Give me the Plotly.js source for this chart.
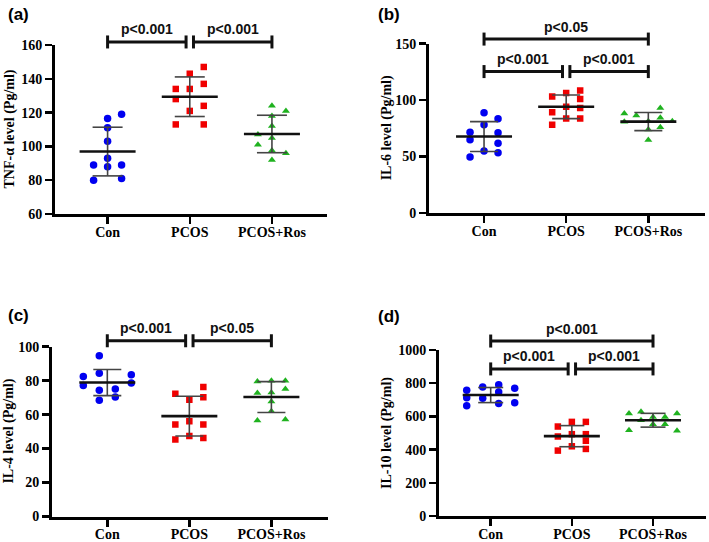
<!DOCTYPE html>
<html><head><meta charset="utf-8">
<script src="https://cdn.plot.ly/plotly-3.0.1.min.js"></script>
<style>html,body{margin:0;padding:0;background:#fff}#chart{width:709px;height:542px}</style>
</head><body><div id="chart"></div>
<script>
// ---------- DATA ----------
const categories = ['Con', 'PCOS', 'PCOS+Ros'];

// (a) TNF-α (Pg/ml)
const tnfCon  = [119, 116.5, 111, 103, 93, 89, 89, 88, 80, 81];
const tnfConCol  = [1, 0, 0, 0, 0, -1, 1, 0, -1, 1];
const tnfPcos = [147, 143, 137, 134, 134, 128, 124, 121, 113, 113];
const tnfPcosCol = [1, 0, 1, -1, 0, -1, 1, 0, -1, 1];
const tnfRos  = [124, 121, 118, 112, 107, 105, 101, 97.5, 96, 92];
const tnfRosCol  = [0, 1, 0, 0, -1, 0, -1, 0, 1, 0];
const tnfComps = [[0, 1, 161.8, 'p<0.001'], [1, 2, 161.8, 'p<0.001']];

// (b) IL-6 (Pg/ml)
const il6Con  = [88.9, 83.4, 78.1, 71.6, 71.0, 64.9, 61.7, 54.9, 53.4, 49.6];
const il6ConCol  = [0, 1, 0, -1, 1, -1, 1, 0, 1, -1];
const il6Pcos = [108.6, 106.3, 103.3, 101.0, 94.2, 93.0, 89.2, 83.7, 83.7, 78.1];
const il6PcosCol = [1, 0, -1, 1, 0, 1, -1, 0, 1, -1];
const il6Ros  = [93.1, 88.1, 86.3, 84.3, 80.8, 81.3, 81.3, 76.0, 74.0, 64.6];
const il6RosCol  = [1, -2, -1, 1, -2, 0, 2, 1, 0, 0];
const il6Comps = [[0, 1, 125.3, 'p<0.001'], [1, 2, 125.3, 'p<0.001'], [0, 2, 154.1, 'p<0.05']];

// (c) IL-4 (Pg/ml)
const il4Con  = [94.6, 84.4, 83.5, 82.5, 78.6, 77.2, 75.1, 74.3, 70.4, 68.4];
const il4ConCol  = [-1, -1, 3, -3, 3, -3, 1, -1, 1, -1];
const il4Pcos = [76.2, 72.3, 70.2, 68.8, 56.1, 54.2, 54.2, 47.4, 46.2, 45.4];
const il4PcosCol = [1, -1, 1, 0, 0, -1, 1, 0, 1, -1];
const il4Ros  = [79.9, 79.9, 79.5, 75.1, 73.1, 72.7, 67.8, 62.0, 57.1, 56.5];
const il4RosCol  = [0, 1, -1, 1, 0, -1, 0, 0, 1, -1];
const il4Comps = [[0, 1, 103.5, 'p<0.001'], [1, 2, 103.5, 'p<0.05']];

// (d) IL-10 (Pg/ml)
const il10Con  = [790, 777, 770, 757, 747, 712, 710, 682, 677, 664];
const il10ConCol  = [1, -1, 3, -3, 1, -3, -1, 3, 1, -3];
const il10Pcos = [567, 567, 539, 493, 493, 479, 453, 420, 404, 394];
const il10PcosCol = [0, 1, -1, 0, 1, -1, 1, 0, 1, -1];
const il10Ros  = [628, 618, 618, 596, 596, 577, 553, 553, 517, 513];
const il10RosCol  = [-1, -2, 2, 0, 1, -1, 0, 1, -2, 2];
const il10Comps = [[0, 1, 886, 'p<0.001'], [1, 2, 886, 'p<0.001'], [0, 2, 1054, 'p<0.001']];

// ---------- STYLE / LAYOUT ----------
const W = 709, H = 542;
const colors = ['#0000f0', '#f00000', '#1fb21f'];
const symbols = ['circle', 'square', 'triangle-up'];
const sizes = [7.5, 6.5, 7];
const serif = 'Liberation Serif, Times New Roman, serif';
const sans = 'Liberation Sans, Arial, sans-serif';

const panels = [
  {label: '(a)', ytitle: 'TNF-α level (Pg/ml)', data: [[tnfCon, tnfConCol, 14], [tnfPcos, tnfPcosCol, 14], [tnfRos, tnfRosCol, 14]],
   box: {l: 55, r: 327, t: 45, b: 214}, xr: [-0.64, 2.67], yr: [60, 160], dtick: 20, comps: tnfComps, cap: 15,
   titleX: 9, labelY: 15},
  {label: '(b)', ytitle: 'IL-6 level (Pg/ml)', data: [[il6Con, il6ConCol, 14], [il6Pcos, il6PcosCol, 14], [il6Ros, il6RosCol, 12]],
   box: {l: 429, r: 705, t: 43.7, b: 213}, xr: [-0.67, 2.69], yr: [0, 150], dtick: 50, comps: il6Comps, cap: 14,
   titleX: 387, labelY: 15},
  {label: '(c)', ytitle: 'IL-4 level (Pg/ml)', data: [[il4Con, il4ConCol, 8], [il4Pcos, il4PcosCol, 14], [il4Ros, il4RosCol, 14]],
   box: {l: 52, r: 328, t: 346.7, b: 516.5}, xr: [-0.674, 2.69], yr: [0, 100], dtick: 20, comps: il4Comps, cap: 14,
   titleX: 9, labelY: 315},
  {label: '(d)', ytitle: 'IL-10 level (Pg/ml)', data: [[il10Con, il10ConCol, 8], [il10Pcos, il10PcosCol, 14], [il10Ros, il10RosCol, 12]],
   box: {l: 439, r: 706, t: 350, b: 516}, xr: [-0.637, 2.653], yr: [0, 1000], dtick: 200, comps: il10Comps, cap: 12.5,
   titleX: 387, labelY: 316}
];

function mean(a) { return a.reduce((s, v) => s + v, 0) / a.length; }
function sd(a) { const m = mean(a); return Math.sqrt(a.reduce((s, v) => s + (v - m) * (v - m), 0) / (a.length - 1)); }

const traces = [];
const layout = {
  width: W, height: H, margin: {l: 0, r: 0, t: 0, b: 0},
  paper_bgcolor: '#fff', plot_bgcolor: 'rgba(0,0,0,0)', showlegend: false,
  shapes: [], annotations: []
};

panels.forEach((p, i) => {
  const n = i === 0 ? '' : String(i + 1);
  const xa = 'x' + n, ya = 'y' + n;
  const spacing = (p.box.r - p.box.l) / (p.xr[1] - p.xr[0]);
  const yPx = (p.box.b - p.box.t) / (p.yr[1] - p.yr[0]);
  const toPaperY = v => 1 - (p.box.b - (v - p.yr[0]) * yPx) / H;

  layout['xaxis' + n] = {
    domain: [p.box.l / W, p.box.r / W], range: p.xr, anchor: ya,
    tickvals: [0, 1, 2], ticktext: categories, ticklabelstandoff: -4,
    showline: true, linewidth: 3, linecolor: '#000', ticks: 'outside', ticklen: 7, tickwidth: 2.5, tickcolor: '#000',
    showgrid: false, zeroline: false, fixedrange: true,
    tickfont: {family: serif, size: 14, color: '#000', weight: 'bold'}
  };
  layout['yaxis' + n] = {
    domain: [1 - p.box.b / H, 1 - p.box.t / H], range: p.yr, anchor: xa,
    tick0: p.yr[0], dtick: p.dtick,
    showline: true, linewidth: 3, linecolor: '#000', ticks: 'outside', ticklen: 7, tickwidth: 2.5, tickcolor: '#000',
    showgrid: false, zeroline: false, fixedrange: true,
    tickfont: {family: serif, size: 14, color: '#000', weight: 'bold'}
  };

  const sdX = [], sdY = [], mX = [], mY = [];
  p.data.forEach((g, gi) => {
    const [vals, cols, stepPx] = g;
    const step = stepPx / spacing;
    traces.push({
      type: 'scatter', mode: 'markers', xaxis: xa, yaxis: ya, hoverinfo: 'skip',
      x: cols.map(c => gi + c * step), y: vals,
      marker: {symbol: symbols[gi], color: colors[gi], size: sizes[gi], line: {width: 0}}
    });
    const m = mean(vals), s = sd(vals), cw = p.cap / spacing, mw = 28 / spacing;
    sdX.push(gi, gi, null, gi - cw, gi + cw, null, gi - cw, gi + cw, null);
    sdY.push(m - s, m + s, null, m + s, m + s, null, m - s, m - s, null);
    mX.push(gi - mw, gi + mw, null);
    mY.push(m, m, null);
  });
  traces.push({type: 'scatter', mode: 'lines', xaxis: xa, yaxis: ya, hoverinfo: 'skip', x: sdX, y: sdY,
    line: {color: '#444', width: 1.6}});
  traces.push({type: 'scatter', mode: 'lines', xaxis: xa, yaxis: ya, hoverinfo: 'skip', x: mX, y: mY,
    line: {color: '#111', width: 2.6}});

  // significance brackets
  const gap = 3.7 / spacing;
  p.comps.forEach(c => {
    let [a, b, lvl, txt] = c;
    const x0 = a === 1 ? a + gap : a;
    const x1 = b === 1 ? b - gap : b;
    const yp = toPaperY(lvl), dy = 6.5 / H;
    const ln = {color: '#111', width: 3};
    layout.shapes.push({type: 'line', xref: xa, yref: 'paper', x0: x0, x1: x1, y0: yp, y1: yp, line: ln});
    layout.shapes.push({type: 'line', xref: xa, yref: 'paper', x0: x0, x1: x0, y0: yp - dy, y1: yp + dy, line: ln});
    layout.shapes.push({type: 'line', xref: xa, yref: 'paper', x0: x1, x1: x1, y0: yp - dy, y1: yp + dy, line: ln});
    layout.annotations.push({xref: xa, yref: 'paper', x: (x0 + x1) / 2, y: yp + 12.5 / H, xanchor: 'center', yanchor: 'middle',
      text: txt, showarrow: false, font: {family: sans, size: 14, color: '#111', weight: 'bold'}});
  });

  // y-axis title
  layout.annotations.push({xref: 'paper', yref: 'paper', x: p.titleX / W, y: 1 - ((p.box.t + p.box.b) / 2) / H,
    xanchor: 'center', yanchor: 'middle', textangle: -90, text: p.ytitle, showarrow: false,
    font: {family: serif, size: 14, color: '#000', weight: 'bold'}});
  // panel label
  layout.annotations.push({xref: 'paper', yref: 'paper', x: (i % 2 === 0 ? 6 : 376) / W, y: 1 - p.labelY / H,
    xanchor: 'left', yanchor: 'middle', text: p.label, showarrow: false,
    font: {family: sans, size: 17, color: '#000', weight: 'bold'}});
});

Plotly.newPlot('chart', traces, layout, {displayModeBar: false, staticPlot: true});
</script>
</body></html>
